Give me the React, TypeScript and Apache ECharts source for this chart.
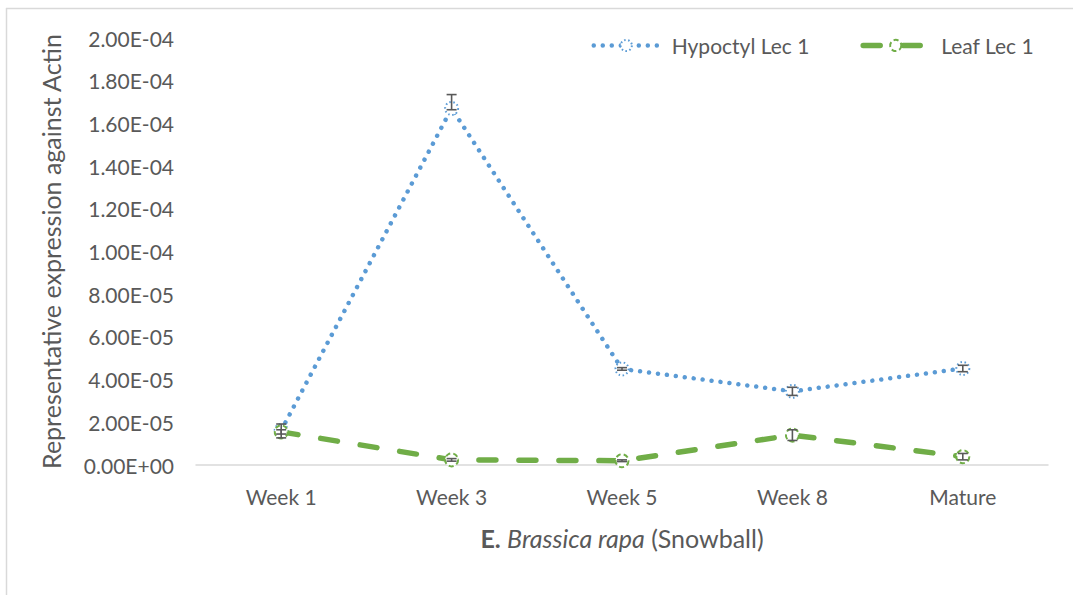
import React, { useEffect, useRef } from "react";
import * as echarts from "echarts";

const categories = ["Week 1", "Week 3", "Week 5", "Week 8", "Mature"];
const hypocotylValues = [1.62e-5, 1.67e-4, 4.5e-5, 3.45e-5, 4.52e-5];
const hypocotylErrUp = [3.0e-6, 6.5e-6, 6e-7, 1.9e-6, 1.5e-6];
const hypocotylErrDown = [3.5e-6, 6e-7, 6e-7, 1.9e-6, 1.5e-6];
const leafValues = [1.55e-5, 2.4e-6, 2.0e-6, 1.4e-5, 3.9e-6];
const leafErrUp = [1.0e-6, 6e-7, 4e-7, 2.5e-6, 1.5e-6];
const leafErrDown = [1.0e-6, 6e-7, 4e-7, 2.5e-6, 1.5e-6];
const seriesNames = ["Hypoctyl Lec 1", "Leaf Lec 1"];

const FONT = "Lato, 'Open Sans', sans-serif";
const TEXT = "#595959";
const BLUE = "#5b9bd5";
const GREEN = "#70ad47";

function fmt(v: number): string {
  if (v === 0) return "0.00E+00";
  const s = v.toExponential(2);
  const [m, e] = s.split("e");
  const n = parseInt(e, 10);
  const sign = n < 0 ? "-" : "+";
  const a = Math.abs(n);
  return m + "E" + sign + (a < 10 ? "0" + a : String(a));
}

function errorSeries(values: number[], up: number[], down: number[]) {
  return {
    type: "custom",
    z: 10,
    silent: true,
    data: values.map((v, i) => [i, v - down[i], v + up[i]]),
    renderItem: (_params: any, api: any) => {
      const i = api.value(0);
      const lo = api.coord([i, api.value(1)]);
      const hi = api.coord([i, api.value(2)]);
      const hw = 5;
      const style = { stroke: "#595959", lineWidth: 1.6 };
      return {
        type: "group",
        children: [
          { type: "line", shape: { x1: lo[0], y1: lo[1], x2: hi[0], y2: hi[1] }, style },
          { type: "line", shape: { x1: lo[0] - hw, y1: lo[1], x2: lo[0] + hw, y2: lo[1] }, style },
          { type: "line", shape: { x1: hi[0] - hw, y1: hi[1], x2: hi[0] + hw, y2: hi[1] }, style },
        ],
      };
    },
  };
}

export default function App() {
  const ref = useRef<HTMLDivElement>(null);
  useEffect(() => {
    if (!ref.current) return;
    const chart = echarts.init(ref.current, undefined, { renderer: "svg" });
    chart.setOption({
      animation: false,
      backgroundColor: "#ffffff",
      textStyle: { fontFamily: FONT },
      graphic: [
        { type: "line", shape: { x1: 6.5, y1: 8, x2: 6.5, y2: 595 }, style: { stroke: "#d9d9d9", lineWidth: 1.5 } },
        { type: "line", shape: { x1: 6, y1: 8.5, x2: 1073, y2: 8.5 }, style: { stroke: "#d9d9d9", lineWidth: 1.5 } },
      ],
      legend: {
        data: [
          {
            name: seriesNames[0],
            lineStyle: { color: BLUE, width: 4.5, type: [0.01, 9], cap: "round" },
            itemStyle: { color: BLUE, borderColor: BLUE, borderWidth: 2, borderType: [1.5, 2.5] },
          },
          {
            name: seriesNames[1],
            lineStyle: { color: GREEN, width: 5.5, type: [17, 23], cap: "round" },
            itemStyle: { color: GREEN, borderColor: GREEN, borderWidth: 2, borderType: [5, 3] },
          },
        ],
        right: 34,
        top: 30,
        itemWidth: 65,
        itemHeight: 14,
        itemGap: 51,
        textStyle: { fontFamily: FONT, fontSize: 21, color: TEXT, padding: [0, 0, 0, 8] },
      },
      grid: { left: 196, right: 25, top: 38, bottom: 130 },
      xAxis: {
        type: "category",
        data: categories,
        boundaryGap: true,
        axisLine: { lineStyle: { color: "#d9d9d9", width: 1.5 } },
        axisTick: { show: false },
        axisLabel: { color: TEXT, fontSize: 21, fontFamily: FONT, margin: 21 },
        name: "{b|E.} {i|Brassica rapa} (Snowball)",
        nameLocation: "middle",
        nameGap: 60,
        nameTextStyle: {
          color: TEXT,
          fontSize: 25,
          fontFamily: FONT,
          rich: {
            b: { fontWeight: "bold", fontSize: 25, color: TEXT, fontFamily: FONT },
            i: { fontStyle: "italic", fontSize: 25, color: TEXT, fontFamily: FONT },
          },
        },
      },
      yAxis: {
        type: "value",
        min: 0,
        max: 2e-4,
        interval: 2e-5,
        axisLine: { show: false },
        axisTick: { show: false },
        splitLine: { show: false },
        axisLabel: { color: TEXT, fontSize: 21, fontFamily: FONT, margin: 22, formatter: (v: number) => fmt(v) },
        name: "Representative expression against Actin",
        nameLocation: "middle",
        nameGap: 133,
        nameTextStyle: { color: TEXT, fontSize: 25, fontFamily: FONT },
      },
      series: [
        {
          name: seriesNames[0],
          type: "line",
          data: hypocotylValues,
          symbol: "emptyCircle",
          symbolSize: 13,
          z: 3,
          lineStyle: { color: BLUE, width: 4.5, type: [0.01, 9], cap: "round" },
          itemStyle: { color: BLUE, borderColor: BLUE, borderWidth: 2, borderType: [1.5, 2.5] },
        },
        {
          name: seriesNames[1],
          type: "line",
          data: leafValues,
          symbol: "emptyCircle",
          symbolSize: 13,
          z: 4,
          lineStyle: { color: GREEN, width: 5.5, type: [17, 23], cap: "round" },
          itemStyle: { color: GREEN, borderColor: GREEN, borderWidth: 2, borderType: [5, 3] },
        },
        errorSeries(hypocotylValues, hypocotylErrUp, hypocotylErrDown),
        errorSeries(leafValues, leafErrUp, leafErrDown),
      ],
    });
    return () => chart.dispose();
  }, []);
  return (
    <div
      ref={ref}
      style={{ position: "fixed", left: 0, top: 0, width: 1073, height: 595 }}
    />
  );
}
